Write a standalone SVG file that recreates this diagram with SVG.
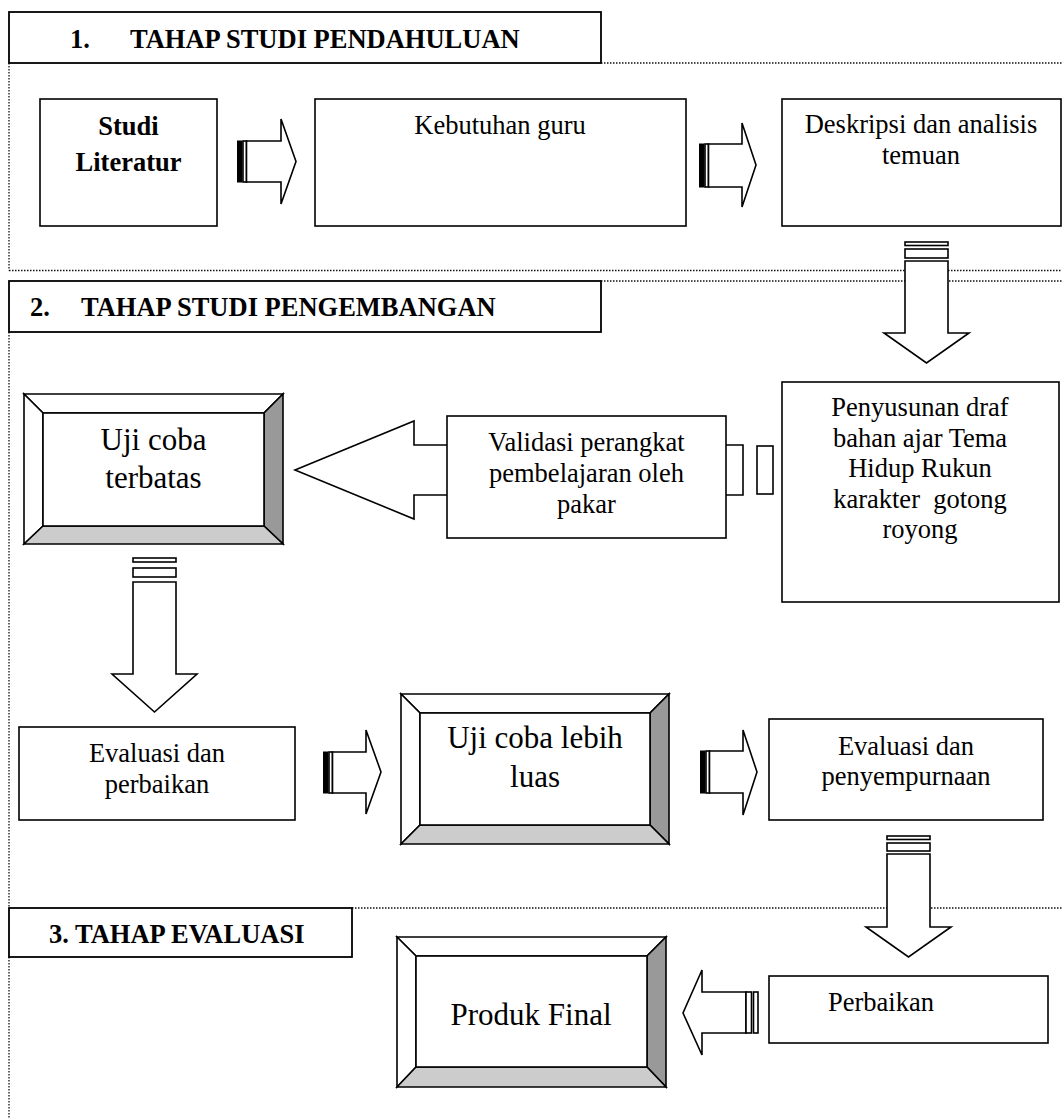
<svg xmlns="http://www.w3.org/2000/svg" width="1062" height="1118" viewBox="0 0 1062 1118">
<style>
  .box{fill:#fff;stroke:#000;stroke-width:1.6}
  .hdr{fill:#fff;stroke:#000;stroke-width:1.8}
  .dot{fill:none;stroke:#111;stroke-width:1.3;stroke-dasharray:1.5 1.5}
  .arr{fill:#fff;stroke:#000;stroke-width:1.6;stroke-linejoin:miter}
  .blk{fill:#000;stroke:#000;stroke-width:1}
  .t{font-family:"Liberation Serif","Times New Roman",serif;font-size:26.5px;fill:#000;text-anchor:middle}
  .b{font-weight:bold}
  .big{font-size:31px}
  .l{text-anchor:start}
  .bw{fill:#fff;stroke:#000;stroke-width:1.6;stroke-linejoin:miter}
  .bd{fill:#999;stroke:#000;stroke-width:1.6;stroke-linejoin:miter}
  .bl{fill:#ccc;stroke:#000;stroke-width:1.6;stroke-linejoin:miter}
</style>
<rect width="1062" height="1118" fill="#fff"/>

<g id="section-borders">
  <line class="dot" x1="601" y1="63" x2="1062" y2="63"/>
  <line class="dot" x1="9" y1="63" x2="9" y2="270.5"/>
  <line class="dot" x1="9" y1="270.5" x2="1062" y2="270.5"/>
  <line class="dot" x1="601" y1="281" x2="1062" y2="281"/>
  <line class="dot" x1="9" y1="332" x2="9" y2="908"/>
  <line class="dot" x1="352" y1="908" x2="1062" y2="908"/>
  <line class="dot" x1="9" y1="957" x2="9" y2="1118"/>
</g>

<g id="connectors">
  <g id="a1">
    <rect class="blk" x="237.5" y="141" width="4.5" height="41"/>
    <rect class="arr" x="243" y="141" width="3.5" height="41"/>
    <polygon class="arr" points="246.5,141 281,141 281,119 296,161.5 281,204 281,182 246.5,182"/>
  </g>
  <g id="a2">
    <rect class="blk" x="699.5" y="144" width="4.5" height="43"/>
    <rect class="arr" x="705" y="144" width="3.5" height="43"/>
    <polygon class="arr" points="708.5,144 742,144 742,123 756,165 742,207 742,187 708.5,187"/>
  </g>
  <g id="a3">
    <rect class="arr" x="905" y="242" width="43" height="3.5"/>
    <rect class="arr" x="905" y="249" width="43" height="9"/>
    <polygon class="arr" points="905,261 948,261 948,333 969,333 926.5,363 884,333 905,333"/>
  </g>
  <g id="a4">
    <polygon class="arr" points="743,445 414,445 414,421 295,470 414,519 414,495 743,495"/>
    <rect class="arr" x="757" y="446" width="16" height="48"/>
  </g>
  <g id="a5">
    <rect class="arr" x="133" y="558" width="43" height="4"/>
    <rect class="arr" x="133" y="568" width="43" height="9"/>
    <polygon class="arr" points="133,582 176,582 176,674 197,674 154.5,712 112,674 133,674"/>
  </g>
  <g id="a6">
    <rect class="blk" x="323.5" y="752" width="4.5" height="41"/>
    <rect class="arr" x="329" y="752" width="3.5" height="41"/>
    <polygon class="arr" points="332.5,752 366,752 366,730 381,772 366,814 366,793 332.5,793"/>
  </g>
  <g id="a7">
    <rect class="blk" x="700.5" y="751" width="4.5" height="42"/>
    <rect class="arr" x="706" y="751" width="3.5" height="42"/>
    <polygon class="arr" points="709.5,751 743,751 743,730 757,772 743,815 743,793 709.5,793"/>
  </g>
  <g id="a8">
    <rect class="arr" x="887" y="836" width="43" height="3.5"/>
    <rect class="arr" x="887" y="843" width="43" height="8"/>
    <polygon class="arr" points="887,854 930,854 930,927 951,927 908.5,957 866,927 887,927"/>
  </g>
  <g id="a9">
    <polygon class="arr" points="746,992 702,992 702,970 683,1013 702,1055 702,1033 746,1033"/>
    <rect class="arr" x="746" y="992" width="5.5" height="41"/>
    <rect class="arr" x="753.5" y="992" width="4.5" height="41"/>
  </g>
</g>

<g id="header1">
  <rect class="hdr" x="9" y="12" width="592" height="51"/>
  <text class="t b l" y="48"><tspan x="70">1.</tspan><tspan x="130">TAHAP STUDI PENDAHULUAN</tspan></text>
</g>
<g id="header2">
  <rect class="hdr" x="9" y="281" width="592" height="51"/>
  <text class="t b l" y="316"><tspan x="30">2.</tspan><tspan x="81">TAHAP STUDI PENGEMBANGAN</tspan></text>
</g>
<g id="header3">
  <rect class="hdr" x="9" y="908" width="343" height="49"/>
  <text class="t b l" x="49" y="943">3. TAHAP EVALUASI</text>
</g>

<g id="studi-literatur">
  <rect class="box" x="40" y="99" width="177" height="127"/>
  <text class="t b" x="128.5" y="135">Studi</text>
  <text class="t b" x="128.5" y="171">Literatur</text>
</g>
<g id="kebutuhan-guru">
  <rect class="box" x="315" y="99" width="371" height="127"/>
  <text class="t" x="500" y="134">Kebutuhan guru</text>
</g>
<g id="deskripsi">
  <rect class="box" x="782" y="99" width="279" height="127"/>
  <text class="t" x="921" y="133">Deskripsi dan analisis</text>
  <text class="t" x="921" y="164">temuan</text>
</g>
<g id="penyusunan">
  <rect class="box" x="782" y="382" width="277" height="220"/>
  <text class="t" x="920" y="416">Penyusunan draf</text>
  <text class="t" x="920" y="447">bahan ajar Tema</text>
  <text class="t" x="920" y="477">Hidup Rukun</text>
  <text class="t" x="920" y="508" xml:space="preserve">karakter  gotong</text>
  <text class="t" x="920" y="538">royong</text>
</g>
<g id="validasi">
  <rect class="box" x="447" y="416" width="279" height="122"/>
  <text class="t" x="586.5" y="451">Validasi perangkat</text>
  <text class="t" x="586.5" y="482">pembelajaran oleh</text>
  <text class="t" x="586.5" y="513">pakar</text>
</g>
<g id="uji-coba-terbatas">
  <polygon class="bw" points="24,394 283,394 264,413 43,413"/>
  <polygon class="bw" points="24,394 43,413 43,526 24,544"/>
  <polygon class="bd" points="283,394 283,544 264,526 264,413"/>
  <polygon class="bl" points="24,544 43,526 264,526 283,544"/>
  <rect class="box" x="43" y="413" width="221" height="113"/>
  <text class="t big" x="153.5" y="450">Uji coba</text>
  <text class="t big" x="153.5" y="488">terbatas</text>
</g>
<g id="evaluasi-perbaikan">
  <rect class="box" x="19" y="727" width="276" height="93"/>
  <text class="t" x="157" y="762">Evaluasi dan</text>
  <text class="t" x="157" y="793">perbaikan</text>
</g>
<g id="uji-coba-lebih-luas">
  <polygon class="bw" points="401,694 669,694 650,713 420,713"/>
  <polygon class="bw" points="401,694 420,713 420,825 401,844"/>
  <polygon class="bd" points="669,694 669,844 650,825 650,713"/>
  <polygon class="bl" points="401,844 420,825 650,825 669,844"/>
  <rect class="box" x="420" y="713" width="230" height="112"/>
  <text class="t big" x="535" y="748">Uji coba lebih</text>
  <text class="t big" x="535" y="787">luas</text>
</g>
<g id="evaluasi-penyempurnaan">
  <rect class="box" x="769" y="719" width="274" height="101"/>
  <text class="t" x="906" y="755">Evaluasi dan</text>
  <text class="t" x="906" y="785">penyempurnaan</text>
</g>
<g id="perbaikan">
  <rect class="box" x="769" y="976" width="279" height="67"/>
  <text class="t l" x="828" y="1011">Perbaikan</text>
</g>
<g id="produk-final">
  <polygon class="bw" points="397,937 666,937 647,956 416,956"/>
  <polygon class="bw" points="397,937 416,956 416,1067 397,1087"/>
  <polygon class="bd" points="666,937 666,1087 647,1067 647,956"/>
  <polygon class="bl" points="397,1087 416,1067 647,1067 666,1087"/>
  <rect class="box" x="416" y="956" width="231" height="111"/>
  <text class="t big" x="531" y="1025">Produk Final</text>
</g>
</svg>
